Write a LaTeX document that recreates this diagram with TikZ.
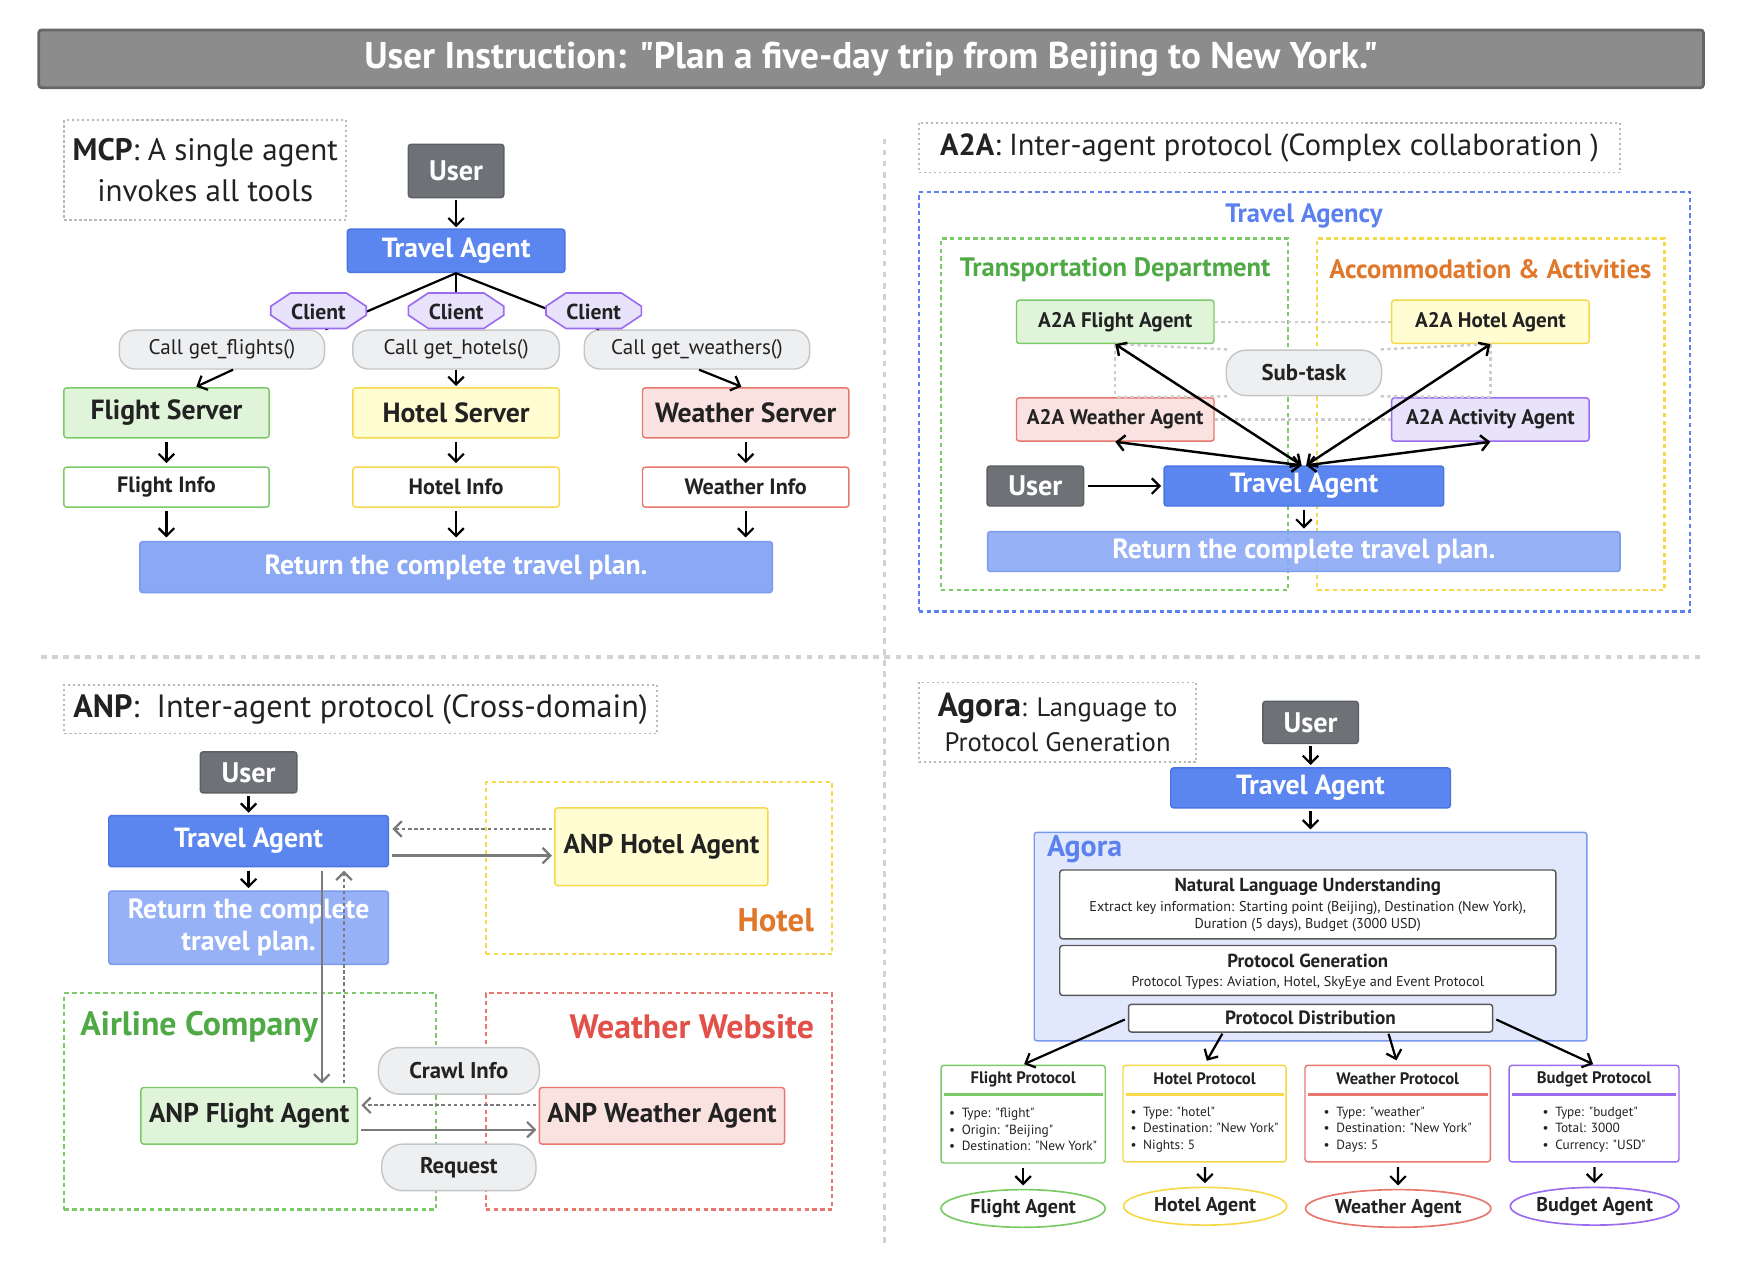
\documentclass[tikz,border=0pt]{standalone}
\usepackage{fontspec}
\setmainfont{PT Sans}[Ligatures=TeXOff]
\usetikzlibrary{arrows.meta,shapes.geometric}

\definecolor{ink}{HTML}{222222}
\definecolor{titlegray}{HTML}{8C8C8C}
\definecolor{titleline}{HTML}{666666}
\definecolor{usergray}{HTML}{6E7277}
\definecolor{userline}{HTML}{5C5F63}
\definecolor{agentblue}{HTML}{5B86F0}
\definecolor{agentline}{HTML}{4A74E0}
\definecolor{returnblue}{HTML}{8BA8F5}
\definecolor{returnline}{HTML}{7A9AEE}
\definecolor{greenfill}{HTML}{E0F4D9}
\definecolor{greenline}{HTML}{7ACB67}
\definecolor{yellowfill}{HTML}{FFFDD1}
\definecolor{yellowline}{HTML}{F6D84B}
\definecolor{redfill}{HTML}{F9E2E0}
\definecolor{redline}{HTML}{E8786E}
\definecolor{purplefill}{HTML}{E8E2FB}
\definecolor{purpleline}{HTML}{9B6CF0}
\definecolor{pillfill}{HTML}{EEEFF1}
\definecolor{pillline}{HTML}{C5C6C8}
\definecolor{agorafill}{HTML}{E1E8FC}
\definecolor{greentext}{HTML}{4FAA46}
\definecolor{orangetext}{HTML}{E0782C}
\definecolor{redtext}{HTML}{E2504A}
\definecolor{bluetext}{HTML}{5B80F0}
\definecolor{arrowgray}{HTML}{7A7A7A}

\begin{document}
\begin{tikzpicture}[x=1pt,y=-1pt,
% The boxes:
basebox/.style={rectangle, rounded corners=2.5pt, line width=1.3pt, inner sep=0pt, align=center, text=ink},
userbox/.style={basebox, fill=usergray, draw=userline, text=white, font=\fontsize{25.5}{28}\selectfont\bfseries},
agentbox/.style={basebox, fill=agentblue, draw=agentline, text=white, font=\fontsize{25}{28}\selectfont\bfseries},
returnbox/.style={basebox, fill=returnblue, draw=returnline, text=white, font=\fontsize{25}{29}\selectfont\bfseries},
greenbox/.style={basebox, fill=greenfill, draw=greenline},
yellowbox/.style={basebox, fill=yellowfill, draw=yellowline},
redbox/.style={basebox, fill=redfill, draw=redline},
purplebox/.style={basebox, fill=purplefill, draw=purpleline},
pill/.style={basebox, rounded corners=14pt, fill=pillfill, draw=pillline},
agentoval/.style={ellipse, line width=1.5pt, fill=white, inner sep=0pt, text=ink, font=\fontsize{18}{20}\selectfont\bfseries},
% The frames:
labelframe/.style={rectangle, draw=gray!55, line width=1.6pt, dash pattern=on 2pt off 2.5pt, inner sep=0pt, align=center, text=ink, font=\fontsize{28}{37}\selectfont},
areaframe/.style={rectangle, line width=2pt, dash pattern=on 4pt off 3pt, inner sep=0pt},
divider/.style={draw=gray!35, line width=3pt, dash pattern=on 5pt off 5pt},
% The connectors:
flowarrow/.style={-{Straight Barb[length=7pt,width=14pt]}, line width=2pt, shorten >=1pt},
bothways/.style={{Straight Barb[length=7pt,width=14pt]}-{Straight Barb[length=7pt,width=14pt]}, line width=2.2pt},
grayarrow/.style={flowarrow, draw=arrowgray},
graydashed/.style={grayarrow, dash pattern=on 3pt off 2.5pt},
plainline/.style={line width=2pt},
dotline/.style={draw=gray!40, line width=2.2pt, dash pattern=on 3pt off 3pt}
]
\useasboundingbox (0,0) rectangle (1568,1146);

% title bar and the two dividers
\node[basebox, fill=titlegray, draw=titleline, line width=2.5pt, text=white,
  font=\fontsize{33.5}{38}\selectfont\bfseries, minimum width=1500pt, minimum height=52pt]
  (title) at (785,53) {User Instruction: "Plan a five-day trip from Beijing to New York."};
\draw[divider] (797,125) -- (797,1120);
\draw[divider] (37,592) -- (1535,592);

% ---------------- MCP ----------------
\node[labelframe, minimum width=254pt, minimum height=90pt] (mcpLabel) at (185,153)
  {\textbf{MCP}: A single agent\\invokes all tools};
\node[userbox, minimum width=86pt, minimum height=48pt] (mcpUser) at (411,154) {User};
\node[agentbox, minimum width=196pt, minimum height=39pt] (mcpTA) at (411,226) {Travel Agent};
\node[pill, minimum width=185pt, minimum height=35pt, font=\fontsize{19}{21}\selectfont] (mcpCallF) at (200,315) {Call get\_flights()};
\node[pill, minimum width=186pt, minimum height=35pt, font=\fontsize{19}{21}\selectfont] (mcpCallH) at (411,315) {Call get\_hotels()};
\node[pill, minimum width=203pt, minimum height=35pt, font=\fontsize{19}{21}\selectfont] (mcpCallW) at (628,315) {Call get\_weathers()};
\node[greenbox, minimum width=185pt, minimum height=45pt, font=\fontsize{25}{28}\selectfont\bfseries] (mcpFS) at (150,372) {Flight Server};
\node[yellowbox, minimum width=186pt, minimum height=45pt, font=\fontsize{25}{28}\selectfont\bfseries] (mcpHS) at (411,372) {Hotel Server};
\node[redbox, minimum width=186pt, minimum height=45pt, font=\fontsize{25}{28}\selectfont\bfseries] (mcpWS) at (672,372) {Weather Server};
\node[basebox, fill=white, draw=greenline, minimum width=185pt, minimum height=36pt, font=\fontsize{20}{22}\selectfont\bfseries] (mcpFI) at (150,439) {Flight Info};
\node[basebox, fill=white, draw=yellowline, minimum width=186pt, minimum height=36pt, font=\fontsize{20}{22}\selectfont\bfseries] (mcpHI) at (411,439) {Hotel Info};
\node[basebox, fill=white, draw=redline, minimum width=186pt, minimum height=36pt, font=\fontsize{20}{22}\selectfont\bfseries] (mcpWI) at (672,439) {Weather Info};
\node[returnbox, minimum width=570pt, minimum height=46pt] (mcpRet) at (411,511) {Return the complete travel plan.};

\draw[flowarrow, shorten <=2pt] (mcpUser) -- (mcpTA);
\draw[plainline] (mcpTA.south) -- (mcpCallF.north east);
\draw[plainline] (mcpTA.south) -- (mcpCallH.north);
\draw[plainline] (mcpTA.south) -- ([xshift=14pt]mcpCallW.north west);
% clients sit on top of the three lines
\foreach \cx/\nm in {287/mcpClientF,411/mcpClientH,535/mcpClientW}{
  \filldraw[fill=purplefill, draw=purpleline, line width=1.5pt]
    (\cx-25,264) -- (\cx+25,264) -- (\cx+43,276) -- (\cx+43,284) -- (\cx+25,296)
    -- (\cx-25,296) -- (\cx-43,284) -- (\cx-43,276) -- cycle;
  \node[text=ink, font=\fontsize{19.5}{21}\selectfont\bfseries] (\nm) at (\cx,281) {Client};
}
\draw[flowarrow] ([xshift=10pt]mcpCallF.south) -- ([xshift=26pt]mcpFS.north);
\draw[flowarrow] (mcpCallH.south) -- (mcpHS.north);
\draw[flowarrow] ([xshift=2pt]mcpCallW.south) -- ([xshift=-3pt]mcpWS.north);
\foreach \a/\b in {mcpFS/mcpFI,mcpHS/mcpHI,mcpWS/mcpWI}
  \draw[flowarrow, shorten <=3pt, shorten >=3pt] (\a) -- (\b);
\foreach \a in {mcpFI,mcpHI,mcpWI}
  \draw[flowarrow, shorten <=3pt, shorten >=3pt] (\a.south) -- (\a.south |- mcpRet.north);

% ---------------- A2A ----------------
\node[labelframe, minimum width=632pt, minimum height=45pt, font=\fontsize{27.5}{30}\selectfont] (a2aLabel) at (1144,133)
  {\textbf{A2A}: Inter-agent protocol (Complex collaboration )};
\node[areaframe, draw=bluetext, minimum width=695pt, minimum height=378pt] (agency) at (1175.5,362) {};
\node[text=bluetext, font=\fontsize{24}{26}\selectfont\bfseries] (agencyName) at (1175,195) {Travel Agency};
\node[areaframe, draw=greenline, minimum width=313pt, minimum height=317pt] (transDept) at (1004.5,373.5) {};
\node[text=greentext, font=\fontsize{24}{26}\selectfont\bfseries] (transName) at (1005,243) {Transportation Department};
\node[areaframe, draw=yellowline, minimum width=313pt, minimum height=317pt] (accomDept) at (1343.5,373.5) {};
\node[text=orangetext, font=\fontsize{24}{26}\selectfont\bfseries] (accomName) at (1343,243) {Accommodation \& Activities};

\node[greenbox, minimum width=178pt, minimum height=39pt, font=\fontsize{19}{21}\selectfont\bfseries] (a2aF) at (1005,290) {A2A Flight Agent};
\node[yellowbox, minimum width=178pt, minimum height=39pt, font=\fontsize{19}{21}\selectfont\bfseries] (a2aH) at (1343,290) {A2A Hotel Agent};
\node[redbox, minimum width=178pt, minimum height=39pt, font=\fontsize{19}{21}\selectfont\bfseries] (a2aW) at (1005,378) {A2A Weather Agent};
\node[purplebox, minimum width=178pt, minimum height=39pt, font=\fontsize{19}{21}\selectfont\bfseries] (a2aA) at (1343,378) {A2A Activity Agent};
\node[pill, rounded corners=18pt, minimum width=140pt, minimum height=41pt, font=\fontsize{20.5}{22}\selectfont\bfseries] (a2aSub) at (1175,336) {Sub-task};
\node[userbox, minimum width=87pt, minimum height=36pt] (a2aUser) at (933,438) {User};
\node[agentbox, minimum width=252pt, minimum height=36pt] (a2aTA) at (1175,438) {Travel Agent};
\node[returnbox, fill opacity=0.9, text opacity=1, minimum width=570pt, minimum height=36pt] (a2aRet) at (1175,497) {Return the complete travel plan.};

\draw[dotline] (a2aF.east) -- (a2aH.west);
\draw[dotline] (a2aW.east) -- (a2aA.west);
\draw[dotline] (a2aF.south) -- (a2aW.north);
\draw[dotline] (a2aH.south) -- (a2aA.north);
\draw[dotline] (a2aSub.163) -- (a2aF.south);
\draw[dotline] (a2aSub.197) -- (a2aW.north);
\draw[dotline] (a2aSub.17) -- (a2aH.south);
\draw[dotline] (a2aSub.-17) -- (a2aA.north);

\draw[bothways] ([xshift=-2pt]a2aTA.north) -- (a2aF.south);
\draw[bothways] ([xshift=-2pt]a2aTA.north) -- (a2aW.south);
\draw[bothways] ([xshift=2pt]a2aTA.north) -- (a2aH.south);
\draw[bothways] ([xshift=2pt]a2aTA.north) -- (a2aA.south);
\draw[flowarrow, shorten <=3pt, shorten >=2pt] (a2aUser) -- (a2aTA);
\draw[flowarrow, shorten <=3pt, shorten >=2pt] (a2aTA) -- (a2aRet);

% ---------------- ANP ----------------
\node[labelframe, minimum width=534pt, minimum height=44pt, font=\fontsize{29}{32}\selectfont] (anpLabel) at (325,639)
  {\textbf{ANP}:\ \ Inter-agent protocol (Cross-domain)};
\node[areaframe, draw=yellowline, minimum width=312pt, minimum height=155pt] (hotelArea) at (594,782.5) {};
\node[text=orangetext, anchor=east, font=\fontsize{29.5}{32}\selectfont\bfseries] (hotelName) at (737,829) {Hotel};
\node[areaframe, draw=greenline, minimum width=335pt, minimum height=195pt] (airlineArea) at (225.5,992.5) {};
\node[text=greentext, anchor=west, font=\fontsize{30.5}{33}\selectfont\bfseries] (airlineName) at (69,925) {Airline Company};
\node[areaframe, draw=redline, minimum width=312pt, minimum height=195pt] (weatherArea) at (594,992.5) {};
\node[text=redtext, anchor=east, font=\fontsize{30.5}{33}\selectfont\bfseries] (weatherName) at (737,925) {Weather Website};

\node[userbox, minimum width=87pt, minimum height=37pt] (anpUser) at (224,696) {User};
\node[agentbox, minimum width=252pt, minimum height=46pt] (anpTA) at (224,758) {Travel Agent};
\node[returnbox, fill opacity=0.9, text opacity=1, minimum width=252pt, minimum height=66pt] (anpRet) at (224,836) {Return the complete\\travel plan.};
\node[yellowbox, minimum width=192pt, minimum height=70pt, font=\fontsize{24.5}{27}\selectfont\bfseries] (anpH) at (596,763) {ANP Hotel Agent};
\node[greenbox, minimum width=195pt, minimum height=51pt, font=\fontsize{24.5}{27}\selectfont\bfseries] (anpF) at (224.5,1005.5) {ANP Flight Agent};
\node[redbox, minimum width=221pt, minimum height=51pt, font=\fontsize{24.5}{27}\selectfont\bfseries] (anpW) at (596.5,1005.5) {ANP Weather Agent};
\node[pill, rounded corners=19pt, minimum width=145pt, minimum height=42pt, font=\fontsize{20.5}{22}\selectfont\bfseries] (anpCrawl) at (413.5,965) {Crawl Info};
\node[pill, rounded corners=19pt, minimum width=139pt, minimum height=42pt, font=\fontsize{20.5}{22}\selectfont\bfseries] (anpReq) at (413.5,1052) {Request};

\draw[flowarrow, shorten <=2pt, shorten >=2pt] (anpUser) -- (anpTA);
\draw[flowarrow, shorten <=3pt, shorten >=2pt] (anpTA) -- (anpRet);
\draw[graydashed, shorten <=2pt, shorten >=3pt] ([yshift=16pt]anpH.west) -- ([yshift=16pt]anpH.west -| anpTA.east);
\draw[grayarrow, shorten <=3pt, shorten >=2pt] ([yshift=-13pt]anpTA.east) -- ([yshift=-13pt]anpTA.east -| anpH.west);
\draw[grayarrow, shorten <=3pt, shorten >=3pt] ([xshift=66pt]anpTA.south) -- ([xshift=66pt]anpTA.south |- anpF.north);
\draw[graydashed, shorten <=3pt, shorten >=3pt] ([xshift=86pt]anpTA.south |- anpF.north) -- ([xshift=86pt]anpTA.south);
\draw[graydashed, shorten <=2pt, shorten >=3pt] ([yshift=9.5pt]anpW.west) -- ([yshift=9.5pt]anpW.west -| anpF.east);
\draw[grayarrow, shorten <=3pt, shorten >=2pt] ([yshift=-12.5pt]anpF.east) -- ([yshift=-12.5pt]anpF.east -| anpW.west);

% ---------------- Agora ----------------
\node[labelframe, minimum width=250pt, minimum height=72pt, font=\fontsize{24}{32}\selectfont] (agLabel) at (953,651)
  {{\fontsize{30}{32}\selectfont\bfseries Agora}: Language to\\Protocol Generation};
\node[userbox, minimum width=86pt, minimum height=38pt] (agUser) at (1181,651) {User};
\node[agentbox, minimum width=252pt, minimum height=36pt] (agTA) at (1181,710) {Travel Agent};
\node[basebox, fill=agorafill, draw=returnline, minimum width=498pt, minimum height=188pt] (agora) at (1181,844) {};
\node[text=bluetext, anchor=west, font=\fontsize{27}{30}\selectfont\bfseries] (agoraName) at (940,765) {Agora};

\node[basebox, fill=white, draw=gray!70!black, minimum width=447pt, minimum height=62pt] (agNLU) at (1178.5,815) {};
\node[text=ink, font=\fontsize{17}{19}\selectfont\bfseries] (agNLUtitle) at (1178.5,799) {Natural Language Understanding};
\node[text=ink, align=center, font=\fontsize{12.8}{16}\selectfont] (agNLUtext) at (1178.5,826)
  {Extract key information: Starting point (Beijing), Destination (New York),\\Duration (5 days), Budget (3000 USD)};
\node[basebox, fill=white, draw=gray!70!black, minimum width=447pt, minimum height=45pt] (agPG) at (1178.5,874.5) {};
\node[text=ink, font=\fontsize{17}{19}\selectfont\bfseries] (agPGtitle) at (1178.5,866) {Protocol Generation};
\node[text=ink, font=\fontsize{12.8}{15}\selectfont] (agPGtext) at (1178.5,886) {Protocol Types: Aviation, Hotel, SkyEye and Event Protocol};
\node[basebox, fill=white, draw=gray!70!black, minimum width=328pt, minimum height=25pt, font=\fontsize{17.3}{19}\selectfont\bfseries] (agPD) at (1181,917.5) {Protocol Distribution};

% protocol cards
\node[basebox, fill=white, draw=greenline, minimum width=148pt, minimum height=88pt] (agFP) at (922,1004) {};
\node[basebox, fill=white, draw=yellowline, minimum width=147pt, minimum height=87pt] (agHP) at (1085.5,1003.5) {};
\node[basebox, fill=white, draw=redline, minimum width=167pt, minimum height=87pt] (agWP) at (1259.5,1003.5) {};
\node[basebox, fill=white, draw=purpleline, minimum width=153pt, minimum height=87pt] (agBP) at (1436.5,1003.5) {};
\foreach \card/\col/\name in {agFP/greenline/Flight Protocol,agHP/yellowline/Hotel Protocol,agWP/redline/Weather Protocol,agBP/purpleline/Budget Protocol}{
  \node[text=ink, font=\fontsize{15}{17}\selectfont\bfseries] (\card title) at ([yshift=-13pt]\card.north) {\name};
  \draw[draw=\col, line width=3pt] ([xshift=3pt,yshift=-27pt]\card.north west) -- ([xshift=-3pt,yshift=-27pt]\card.north east);
}
\node[text=ink, align=left, font=\fontsize{12}{15}\selectfont] (agFPlist) at (922,1018)
  {\textbullet\enspace Type: "flight"\\\textbullet\enspace Origin: "Beijing"\\\textbullet\enspace Destination: "New York"};
\node[text=ink, align=left, font=\fontsize{12}{15}\selectfont] (agHPlist) at (1085.5,1018)
  {\textbullet\enspace Type: "hotel"\\\textbullet\enspace Destination: "New York"\\\textbullet\enspace Nights: 5};
\node[text=ink, align=left, font=\fontsize{12}{15}\selectfont] (agWPlist) at (1259.5,1018)
  {\textbullet\enspace Type: "weather"\\\textbullet\enspace Destination: "New York"\\\textbullet\enspace Days: 5};
\node[text=ink, align=left, font=\fontsize{12}{15}\selectfont] (agBPlist) at (1436.5,1018)
  {\textbullet\enspace Type: "budget"\\\textbullet\enspace Total: 3000\\\textbullet\enspace Currency: "USD"};

\node[agentoval, draw=greenline, minimum width=148pt, minimum height=34pt] (agFA) at (922,1089) {Flight Agent};
\node[agentoval, draw=yellowline, minimum width=147pt, minimum height=34pt] (agHA) at (1086,1087) {Hotel Agent};
\node[agentoval, draw=redline, minimum width=167pt, minimum height=34pt] (agWA) at (1260,1089) {Weather Agent};
\node[agentoval, draw=purpleline, minimum width=152pt, minimum height=34pt] (agBA) at (1437,1087) {Budget Agent};

\draw[flowarrow, shorten <=2pt, shorten >=2pt] (agUser) -- (agTA);
\draw[flowarrow, shorten <=2pt, shorten >=2pt] (agTA) -- (agora);
\draw[flowarrow, shorten <=3pt, shorten >=1pt] (agPD.west) -- (agFP.north);
\draw[flowarrow, shorten <=1pt, shorten >=4pt] ([xshift=-79pt]agPD.south) -- (agHP.north);
\draw[flowarrow, shorten <=1pt, shorten >=4pt] ([xshift=70pt]agPD.south) -- (agWP.north);
\draw[flowarrow, shorten <=3pt, shorten >=1pt] (agPD.east) -- (agBP.north);
\foreach \a/\b in {agFP/agFA,agHP/agHA,agWP/agWA,agBP/agBA}
  \draw[flowarrow, shorten <=4pt, shorten >=3pt] (\a) -- (\b);
\end{tikzpicture}
\end{document}
